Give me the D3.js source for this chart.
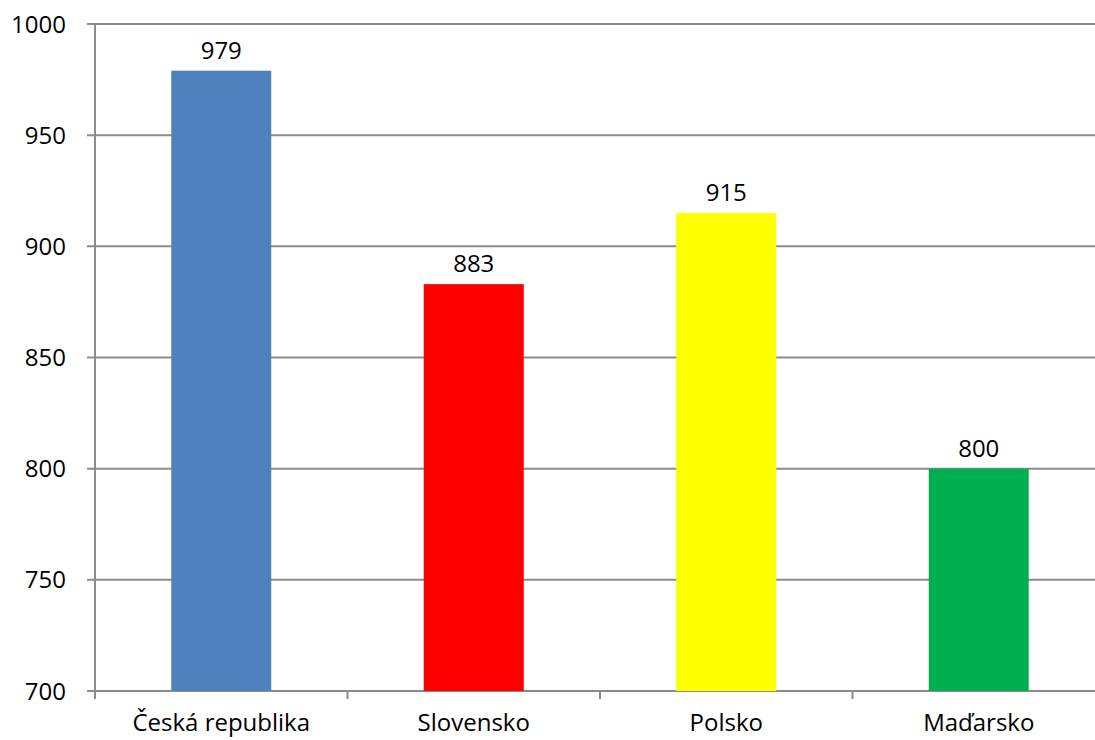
<!DOCTYPE html>
<html>
<head>
<meta charset="utf-8">
<script src="https://cdn.jsdelivr.net/npm/d3@7"></script>
<style>
  body { margin: 0; background: #fff; }
  svg { display: block; font-family: "Open Sans", "Noto Sans", sans-serif; }
</style>
</head>
<body>
<div id="chart"></div>
<script>
// data
var countries = ["Česká republika", "Slovensko", "Polsko", "Maďarsko"];
var values = [979, 883, 915, 800];
var barColors = ["#4f81bd", "#ff0000", "#ffff00", "#00b050"];
var yTicks = [700, 750, 800, 850, 900, 950, 1000];

var margin = { top: 24, right: -10, bottom: 49, left: 95 },
    width = 1095 - margin.left - margin.right,
    height = 740 - margin.top - margin.bottom;

var svg = d3.select("#chart")
    .append("svg")
    .attr("width", 1095)
    .attr("height", 740)
    .append("g")
    .attr("transform", "translate(" + margin.left + "," + margin.top + ")");

var x = d3.scaleBand()
    .domain(countries)
    .range([0, width])
    .paddingInner(0.604)
    .paddingOuter(0.302);

var xOuter = d3.scaleBand()
    .domain(countries)
    .range([0, width]);

var y = d3.scaleLinear()
    .domain([700, 1000])
    .range([height, 0]);

// gridlines
svg.append("g")
    .selectAll("line")
    .data(yTicks)
    .enter()
    .append("line")
    .attr("x1", -8)
    .attr("x2", width)
    .attr("y1", function (d) { return y(d); })
    .attr("y2", function (d) { return y(d); })
    .attr("stroke", "#8c8c8c")
    .attr("stroke-width", 2);

// y labels
svg.append("g")
    .selectAll("text")
    .data(yTicks)
    .enter()
    .append("text")
    .attr("x", -29)
    .attr("y", function (d) { return y(d); })
    .attr("dy", "0.36em")
    .attr("text-anchor", "end")
    .attr("font-size", 24)
    .attr("fill", "#000")
    .text(function (d) { return d; });

// y axis line
svg.append("line")
    .attr("x1", 0).attr("x2", 0)
    .attr("y1", 0).attr("y2", height + 8)
    .attr("stroke", "#8c8c8c")
    .attr("stroke-width", 2);

// category separators
svg.append("g")
    .selectAll("line")
    .data(countries.slice(1))
    .enter()
    .append("line")
    .attr("x1", function (d) { return xOuter(d); })
    .attr("x2", function (d) { return xOuter(d); })
    .attr("y1", height)
    .attr("y2", height + 8)
    .attr("stroke", "#8c8c8c")
    .attr("stroke-width", 2);

// bars
svg.append("g")
    .selectAll("rect")
    .data(values)
    .enter()
    .append("rect")
    .attr("x", function (d, i) { return x(countries[i]); })
    .attr("width", x.bandwidth())
    .attr("y", function (d) { return y(d); })
    .attr("height", function (d) { return height - y(d); })
    .attr("fill", function (d, i) { return barColors[i]; });

// value labels
svg.append("g")
    .selectAll("text")
    .data(values)
    .enter()
    .append("text")
    .attr("x", function (d, i) { return x(countries[i]) + x.bandwidth() / 2; })
    .attr("y", function (d) { return y(d) - 12; })
    .attr("text-anchor", "middle")
    .attr("font-size", 24)
    .attr("fill", "#000")
    .text(function (d) { return d; });

// category labels
svg.append("g")
    .selectAll("text")
    .data(countries)
    .enter()
    .append("text")
    .attr("x", function (d) { return x(d) + x.bandwidth() / 2; })
    .attr("y", height + 40)
    .attr("text-anchor", "middle")
    .attr("font-size", 24)
    .attr("fill", "#000")
    .text(function (d) { return d; });
</script>
</body>
</html>
